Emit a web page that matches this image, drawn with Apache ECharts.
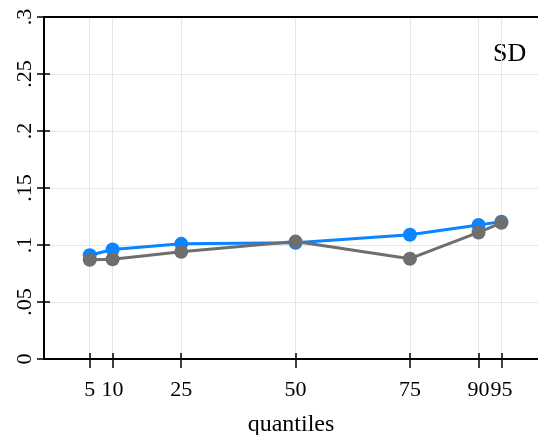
<!DOCTYPE html>
<html><head><meta charset="utf-8">
<script src="https://cdn.jsdelivr.net/npm/echarts@6/dist/echarts.min.js"></script>
<style>html,body{margin:0;padding:0;background:#fff}#c{width:538px;height:435px}</style>
</head><body><div id="c"></div>
<script>
const quantiles = [5, 10, 25, 50, 75, 90, 95];
const blueValues = [0.091, 0.096, 0.101, 0.102, 0.109, 0.1175, 0.1205];
const grayValues = [0.087, 0.0875, 0.094, 0.103, 0.088, 0.111, 0.1195];
const yTicks = [0, 0.05, 0.1, 0.15, 0.2, 0.25, 0.3];
const yTickLabels = ['0', '.05', '.1', '.15', '.2', '.25', '.3'];
const xTitle = 'quantiles';
const panelLabel = 'SD';

const FONT = 'Liberation Serif';
const chart = echarts.init(document.getElementById('c'), null, {renderer: 'canvas'});
const pair = (arr) => quantiles.map((q, i) => [q, arr[i]]);
const axisLineStyle = {color: '#000', width: 2};
const baseX = {type: 'value', min: -5, max: 103, gridIndex: 0};
chart.setOption({
  animation: false,
  grid: {left: 44, top: 17, right: 0, bottom: 76, containLabel: false, outerBoundsMode: 'none'},
  graphic: [{type: 'text', left: 493, top: 41, style: {text: panelLabel, font: '26px "' + FONT + '"', fill: '#000'}}],
  xAxis: [
    Object.assign({}, baseX, {
      position: 'bottom',
      name: xTitle, nameLocation: 'middle', nameGap: 54,
      nameTextStyle: {fontFamily: FONT, fontSize: 24, color: '#000'},
      axisLine: {show: true, onZero: false, lineStyle: axisLineStyle},
      axisTick: {show: true, length: 9, customValues: quantiles, lineStyle: {color: '#000', width: 1.5}},
      axisLabel: {show: true, customValues: quantiles, margin: 20, fontFamily: FONT, fontSize: 22, color: '#000'},
      splitLine: {show: true, lineStyle: {color: '#e6e6e6', width: 1}}
    }),
    Object.assign({}, baseX, {
      position: 'bottom',
      axisLine: {show: false, onZero: false},
      axisTick: {show: true, inside: true, length: 6, customValues: quantiles, lineStyle: {color: '#000', width: 1.5}},
      axisLabel: {show: false},
      splitLine: {show: false}
    }),
    Object.assign({}, baseX, {
      position: 'top',
      axisLine: {show: true, onZero: false, lineStyle: axisLineStyle},
      axisTick: {show: false}, axisLabel: {show: false}, splitLine: {show: false}
    })
  ],
  yAxis: [
    {
      type: 'value', min: 0, max: 0.3, interval: 0.05, position: 'left',
      axisLine: {show: true, onZero: false, lineStyle: axisLineStyle},
      axisTick: {show: true, length: 7, lineStyle: {color: '#000', width: 1.5}},
      axisLabel: {show: true, rotate: 90, margin: 8, fontFamily: FONT, fontSize: 22, color: '#000',
        formatter: (v) => { const i = yTicks.findIndex(t => Math.abs(t - v) < 1e-9); return i >= 0 ? yTickLabels[i] : ''; }},
      splitLine: {show: true, lineStyle: {color: '#e6e6e6', width: 1}}
    },
    {
      type: 'value', min: 0, max: 0.3, interval: 0.05, position: 'left',
      axisLine: {show: false, onZero: false},
      axisTick: {show: true, inside: true, length: 6, lineStyle: {color: '#000', width: 1.5}},
      axisLabel: {show: false}, splitLine: {show: false}
    }
  ],
  series: [
    {type: 'line', data: pair(blueValues), xAxisIndex: 0, yAxisIndex: 0, symbol: 'circle', symbolSize: 14,
      lineStyle: {color: '#0a84ff', width: 3}, itemStyle: {color: '#0a84ff'}, z: 3},
    {type: 'line', data: pair(grayValues), xAxisIndex: 0, yAxisIndex: 0, symbol: 'circle', symbolSize: 14,
      lineStyle: {color: '#6e6e6e', width: 3}, itemStyle: {color: '#6e6e6e'}, z: 4}
  ]
});
</script></body></html>
